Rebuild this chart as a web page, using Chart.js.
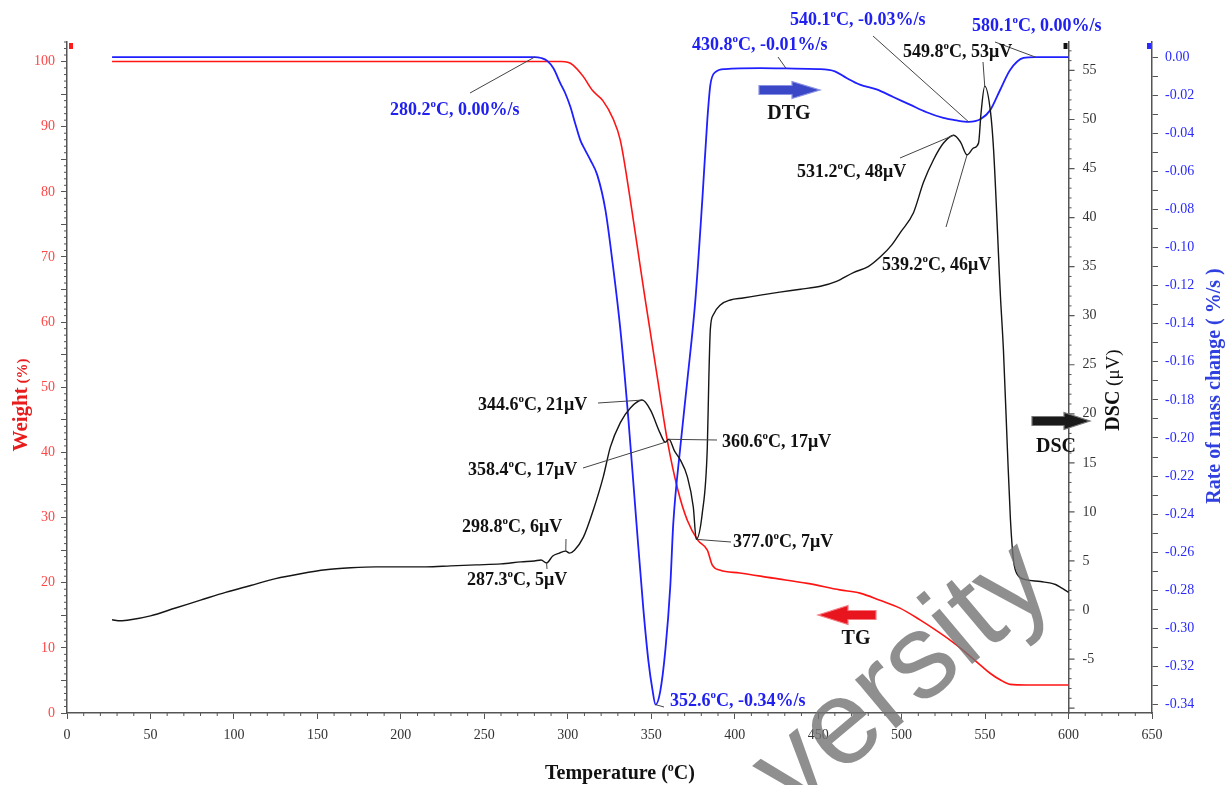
<!DOCTYPE html>
<html>
<head>
<meta charset="utf-8">
<script src="https://cdn.jsdelivr.net/npm/chart.js@4.4.0/dist/chart.umd.min.js"></script>
<style>
  html, body { margin: 0; padding: 0; background: #fff; }
  canvas { display: block; }
</style>
</head>
<body>
<canvas id="c" width="1226" height="785"></canvas>
<script>
// ---- TG: weight (%) vs temperature (°C)
const tgTemp = [27, 150, 286, 296, 300, 303, 309, 315, 321, 327, 331.5, 337.5, 342, 346.5, 350.7, 354, 359.6, 366, 371.6, 378, 383.6, 386.6, 391.4, 403, 423, 443.6, 463, 475, 487, 499, 511, 520, 529, 538, 547, 553, 559, 565, 575, 600];
const tgWeight = [100, 100, 100, 100, 99.9, 99.5, 97.8, 95.5, 94.0, 91.3, 87.9, 78.7, 71.0, 63.3, 56.4, 51.0, 41.9, 34.2, 29.6, 26.5, 25.0, 22.7, 21.9, 21.5, 20.7, 19.9, 18.9, 18.4, 17.3, 16.1, 14.3, 12.8, 11.2, 9.4, 7.4, 6.1, 5.1, 4.4, 4.3, 4.3];

// ---- DTG: rate of mass change (%/s)
const dtgTemp = [27, 150, 277, 280.2, 284, 287.7, 291.5, 295.5, 298.5, 301.5, 304.5, 307.5, 310.5, 313.5, 317.7, 322.5, 326.7, 331.5, 336.3, 341, 345.3, 348.3, 350.7, 352.6, 355.4, 358.5, 361.4, 363.2, 367.4, 371.6, 376.4, 380.6, 383.6, 385.4, 388.4, 394.4, 415.4, 430.8, 450, 460, 467, 475, 485, 495, 505, 515, 525, 533, 540.1, 547.4, 553, 559, 565, 573, 580.1, 600];
const dtgRate = [0, 0, 0, 0, -0.0005, -0.002, -0.006, -0.0137, -0.019, -0.026, -0.035, -0.0436, -0.049, -0.054, -0.062, -0.080, -0.107, -0.143, -0.190, -0.243, -0.290, -0.317, -0.332, -0.340, -0.333, -0.311, -0.278, -0.245, -0.205, -0.170, -0.128, -0.075, -0.033, -0.0147, -0.0079, -0.0063, -0.0058, -0.0060, -0.0063, -0.0075, -0.011, -0.0145, -0.017, -0.021, -0.025, -0.029, -0.032, -0.0333, -0.0340, -0.0325, -0.028, -0.0173, -0.0068, -0.0005, 0, 0];

// ---- DSC: heat flow (µV)
const dscTemp = [27, 32, 38, 50, 65, 80, 95, 110, 125, 140, 155, 170, 185, 200, 215, 230, 245, 260, 272, 280, 284, 287.3, 291, 295, 298.8, 301, 304, 309.3, 315.3, 321.3, 325.5, 331.5, 337.5, 344.6, 349.5, 355.4, 358.4, 360.6, 364, 367.4, 371.6, 375.2, 377.0, 380.6, 383.6, 384.5, 385.4, 387.2, 391.4, 397.4, 405, 415.4, 427, 439.4, 451.4, 461, 471.1, 480, 487.3, 494, 499.3, 507.1, 513.1, 519.1, 525.1, 531.2, 535.3, 539.2, 543.1, 546.1, 547.5, 549.8, 553.3, 555.1, 559.2, 561, 563.4, 565.2, 567, 569.4, 574.2, 583.2, 592.2, 595.2, 600];
const dscSignal = [-1.0, -1.1, -1.0, -0.6, 0.2, 1.0, 1.8, 2.5, 3.2, 3.7, 4.1, 4.3, 4.4, 4.4, 4.4, 4.5, 4.6, 4.7, 4.9, 5.0, 5.1, 4.8, 5.5, 5.8, 6.0, 5.8, 6.1, 7.4, 10.2, 13.6, 16.6, 19.1, 20.6, 21.4, 20.4, 18.0, 17.1, 17.4, 16.2, 15.3, 13.6, 10.5, 7.2, 9.9, 16.6, 23.5, 28.6, 30.1, 31.1, 31.6, 31.8, 32.1, 32.4, 32.7, 33.0, 33.5, 34.4, 35.0, 36.0, 37.2, 38.5, 40.5, 43.6, 45.9, 47.6, 48.4, 47.7, 46.4, 47.1, 47.6, 50.5, 53.4, 50.7, 46.9, 32.0, 26.5, 16.3, 9.2, 5.1, 3.6, 3.1, 2.9, 2.6, 2.3, 1.8];

// ---- axis tick settings
const xTickStep = 50, xMinorStep = 10;
const weightTickStep = 5, weightLabelStep = 10;
const dscTickStep = 5;
const dtgTickStep = 0.01;

// ---- annotated peaks (temperature picks the value from the series)
const dtgNotes = [
  { t: 280.2, at: [390, 110], from: [470, 93] },
  { t: 430.8, at: [692, 45], from: [778, 57] },
  { t: 540.1, at: [790, 20], from: [873, 36] },
  { t: 580.1, at: [972, 26], from: [995, 42] },
  { t: 352.6, at: [670, 701], from: [664, 707] }
];
const dscNotes = [
  { t: 287.3, at: [467, 580], from: [547, 569] },
  { t: 298.8, at: [462, 527], from: [566, 539] },
  { t: 344.6, at: [478, 405], from: [598, 403] },
  { t: 358.4, at: [468, 470], from: [583, 468] },
  { t: 360.6, at: [722, 442], from: [717, 440] },
  { t: 377.0, at: [733, 542], from: [731, 542] },
  { t: 531.2, at: [797, 172], from: [900, 158] },
  { t: 539.2, at: [882, 265], from: [946, 227] },
  { t: 549.8, at: [903, 52], from: [983, 62] }
];

const pts = (xs, ys) => xs.map((x, i) => ({ x, y: ys[i] }));
const valueAt = (xs, ys, t) => ys[xs.indexOf(t)];
const SERIF = '"Liberation Serif", "Times New Roman", serif';

// text with a raised small "o" wherever a degree sign appears
function drawRich(ctx, str, x, y, size, weight, color, align) {
  const parts = str.split('°');
  const main = `${weight} ${size}px ${SERIF}`;
  const sup = `${weight} ${Math.round(size * 0.62)}px ${SERIF}`;
  let w = 0;
  parts.forEach((p, i) => {
    ctx.font = main; w += ctx.measureText(p).width;
    if (i < parts.length - 1) { ctx.font = sup; w += ctx.measureText('o').width; }
  });
  let cx = align === 'center' ? x - w / 2 : align === 'right' ? x - w : x;
  ctx.fillStyle = color;
  ctx.textAlign = 'left';
  ctx.textBaseline = 'middle';
  parts.forEach((p, i) => {
    ctx.font = main; ctx.fillText(p, cx, y); cx += ctx.measureText(p).width;
    if (i < parts.length - 1) {
      ctx.font = sup; ctx.fillText('o', cx, y - size * 0.3); cx += ctx.measureText('o').width;
    }
  });
  return w;
}

function arrow(ctx, x0, x1, y, bodyH, headH, headLen, fill, edge) {
  const d = x1 > x0 ? 1 : -1;
  const hb = x1 - d * headLen;
  ctx.beginPath();
  ctx.moveTo(x0, y - bodyH / 2);
  ctx.lineTo(hb, y - bodyH / 2);
  ctx.lineTo(hb, y - headH / 2);
  ctx.lineTo(x1, y);
  ctx.lineTo(hb, y + headH / 2);
  ctx.lineTo(hb, y + bodyH / 2);
  ctx.lineTo(x0, y + bodyH / 2);
  ctx.closePath();
  ctx.fillStyle = fill;
  ctx.fill();
  ctx.lineWidth = 1.2;
  ctx.strokeStyle = edge;
  ctx.stroke();
}

function tickRun(ctx, scale, lo, hi, step, skip, axisPos, dir, len, vertical) {
  ctx.beginPath();
  const n = Math.round((hi - lo) / step);
  for (let i = 0; i <= n; i++) {
    const v = lo + i * step;
    if (skip && Math.abs(v / skip - Math.round(v / skip)) < 1e-6) continue;
    const p = scale.getPixelForValue(v);
    if (vertical) { ctx.moveTo(axisPos, p); ctx.lineTo(axisPos + dir * len, p); }
    else { ctx.moveTo(p, axisPos); ctx.lineTo(p, axisPos + dir * len); }
  }
  ctx.stroke();
}

const decorations = {
  id: 'decorations',
  afterDraw(chart) {
    const { ctx, chartArea: a, scales } = chart;
    const { x, yW, yD, yR } = scales;
    const dscX = x.getPixelForValue(600);
    ctx.save();

    // minor ticks
    ctx.strokeStyle = '#555';
    ctx.lineWidth = 1;
    tickRun(ctx, x, 0, 650, xMinorStep, xTickStep, a.bottom, 1, 3, false);
    tickRun(ctx, yW, 0, 103, 1, weightTickStep, a.left, -1, 3, true);
    tickRun(ctx, yD, -10, 57, 1, dscTickStep, dscX, 1, 3, true);
    // DSC major ticks and labels
    ctx.lineWidth = 1.2;
    tickRun(ctx, yD, -10, 55, dscTickStep, 0, dscX, 1, 6, true);
    ctx.font = `14px ${SERIF}`;
    ctx.fillStyle = '#333';
    ctx.textAlign = 'left';
    ctx.textBaseline = 'middle';
    yD.ticks.forEach(tk => {
      if (tk.value < -5) return;
      ctx.fillText(String(tk.value), dscX + 14, yD.getPixelForValue(tk.value));
    });

    // little axis-end markers
    ctx.fillStyle = '#ff1a1a'; ctx.fillRect(a.left + 2, a.top + 1, 4, 6);
    ctx.fillStyle = '#111'; ctx.fillRect(dscX - 5, a.top + 1, 4, 6);
    ctx.fillStyle = '#2a2aff'; ctx.fillRect(a.right - 5, a.top + 1, 4, 6);

    // peak annotations
    ctx.strokeStyle = '#444';
    ctx.lineWidth = 1;
    dtgNotes.forEach(n => {
      const v = valueAt(dtgTemp, dtgRate, n.t);
      ctx.beginPath();
      ctx.moveTo(n.from[0], n.from[1]);
      ctx.lineTo(x.getPixelForValue(n.t), yR.getPixelForValue(v));
      ctx.stroke();
      const txt = `${n.t.toFixed(1)}°C, ${(Math.abs(v) < 0.005 ? 0 : v).toFixed(2)}%/s`;
      drawRich(ctx, txt, n.at[0], n.at[1], 18, 'bold', '#2020f0', 'left');
    });
    dscNotes.forEach(n => {
      const v = valueAt(dscTemp, dscSignal, n.t);
      ctx.beginPath();
      ctx.moveTo(n.from[0], n.from[1]);
      ctx.lineTo(x.getPixelForValue(n.t), yD.getPixelForValue(v));
      ctx.stroke();
      const txt = `${n.t.toFixed(1)}°C, ${Math.round(v)}μV`;
      drawRich(ctx, txt, n.at[0], n.at[1], 18, 'bold', '#111', 'left');
    });

    // curve keys
    arrow(ctx, 759, 820, 90, 9, 17, 28, '#3a48c8', '#8a92e4');
    drawRich(ctx, 'DTG', 789, 114, 20, 'bold', '#111', 'center');
    arrow(ctx, 876, 818, 615, 9, 19, 30, '#e8141e', '#f47a80');
    drawRich(ctx, 'TG', 856, 639, 20, 'bold', '#111', 'center');
    arrow(ctx, 1032, 1090, 421, 9, 17, 26, '#1a1a1a', '#777');
    drawRich(ctx, 'DSC', 1056, 447, 20, 'bold', '#111', 'center');

    // axis titles
    ctx.save();
    ctx.translate(27, 405);
    ctx.rotate(-Math.PI / 2);
    ctx.font = `bold 21px ${SERIF}`;
    const w1 = ctx.measureText('Weight').width;
    ctx.font = `bold 15px ${SERIF}`;
    const w2 = ctx.measureText(' (%)').width;
    ctx.fillStyle = '#e81c1c';
    ctx.textAlign = 'left'; ctx.textBaseline = 'alphabetic';
    ctx.font = `bold 21px ${SERIF}`;
    ctx.fillText('Weight', -(w1 + w2) / 2, 0);
    ctx.font = `bold 15px ${SERIF}`;
    ctx.fillText(' (%)', -(w1 + w2) / 2 + w1, 0);
    ctx.restore();

    ctx.save();
    ctx.translate(1119, 390);
    ctx.rotate(-Math.PI / 2);
    ctx.font = `bold 20px ${SERIF}`;
    const d1 = ctx.measureText('DSC').width;
    ctx.font = `19px ${SERIF}`;
    const d2 = ctx.measureText(' (μV)').width;
    ctx.fillStyle = '#111';
    ctx.textAlign = 'left'; ctx.textBaseline = 'alphabetic';
    ctx.font = `bold 20px ${SERIF}`;
    ctx.fillText('DSC', -(d1 + d2) / 2, 0);
    ctx.font = `19px ${SERIF}`;
    ctx.fillText(' (μV)', -(d1 + d2) / 2 + d1, 0);
    ctx.restore();

    ctx.save();
    ctx.translate(1220, 386);
    ctx.rotate(-Math.PI / 2);
    ctx.font = `bold 20px ${SERIF}`;
    ctx.fillStyle = '#3040e0';
    ctx.textAlign = 'center'; ctx.textBaseline = 'alphabetic';
    ctx.fillText('Rate of mass change ( %/s )', 0, 0);
    ctx.restore();

    ctx.textBaseline = 'middle';
    drawRich(ctx, 'Temperature (°C)', 620, 774, 20, 'bold', '#111', 'center');

    // watermark
    ctx.save();
    ctx.translate(1058, 592);
    ctx.rotate(-40 * Math.PI / 180);
    ctx.font = `120px "Liberation Sans", Arial, sans-serif`;
    ctx.fillStyle = 'rgba(115,115,115,0.8)';
    ctx.textAlign = 'right'; ctx.textBaseline = 'alphabetic';
    ctx.fillText('versity', 0, 0);
    ctx.restore();

    ctx.restore();
  }
};

const axisColor = '#555';
const tickFont = { family: 'Liberation Serif', size: 14 };

new Chart(document.getElementById('c'), {
  type: 'line',
  data: {
    datasets: [
      { label: 'DSC', data: pts(dscTemp, dscSignal), yAxisID: 'yD', borderColor: '#151515', borderWidth: 1.4, pointRadius: 0, cubicInterpolationMode: 'monotone' },
      { label: 'DTG', data: pts(dtgTemp, dtgRate), yAxisID: 'yR', borderColor: '#1f1fff', borderWidth: 1.8, pointRadius: 0, cubicInterpolationMode: 'monotone' },
      { label: 'TG', data: pts(tgTemp, tgWeight), yAxisID: 'yW', borderColor: '#ff1414', borderWidth: 1.6, pointRadius: 0, cubicInterpolationMode: 'monotone' }
    ]
  },
  options: {
    responsive: false,
    animation: false,
    layout: { padding: { top: 42, left: 0, right: 0, bottom: 0 } },
    plugins: { legend: { display: false }, tooltip: { enabled: false } },
    scales: {
      x: {
        type: 'linear', axis: 'x', position: 'bottom', min: 0, max: 650,
        ticks: { stepSize: xTickStep, color: '#333', font: tickFont, padding: 8, autoSkip: false, maxRotation: 0 },
        grid: { display: true, drawOnChartArea: false, drawTicks: true, tickLength: 6, color: axisColor },
        border: { display: true, color: axisColor, width: 1.5 },
        afterFit: s => { s.height = 72; }
      },
      yW: {
        type: 'linear', axis: 'y', position: 'left', min: 0, max: 103,
        ticks: { stepSize: weightTickStep, includeBounds: false, autoSkip: false, color: '#ff4646', font: tickFont, padding: 6,
          callback: v => (v % weightLabelStep === 0 ? String(v) : '') },
        grid: { display: true, drawOnChartArea: false, drawTicks: true, tickLength: 6, color: axisColor },
        border: { display: true, color: axisColor, width: 1.5 },
        afterFit: s => { s.width = 67; }
      },
      yD: {
        type: 'linear', axis: 'y', position: { x: 600 }, min: -10.5, max: 57.9,
        ticks: { stepSize: dscTickStep, includeBounds: false, display: false },
        grid: { display: false },
        border: { display: true, color: axisColor, width: 1.5 }
      },
      yR: {
        type: 'linear', axis: 'y', position: 'right', min: -0.3444, max: 0.0079,
        ticks: { stepSize: dtgTickStep, includeBounds: false, autoSkip: false, color: '#2a2aff', font: tickFont, padding: 7,
          callback: v => { const k = Math.round(v * 100); return k % 2 === 0 ? (k / 100).toFixed(2) : ''; } },
        grid: { display: true, drawOnChartArea: false, drawTicks: true, tickLength: 6, color: axisColor },
        border: { display: true, color: axisColor, width: 1.5 },
        afterFit: s => { s.width = 74; }
      }
    }
  },
  plugins: [decorations]
});
</script>
</body>
</html>
